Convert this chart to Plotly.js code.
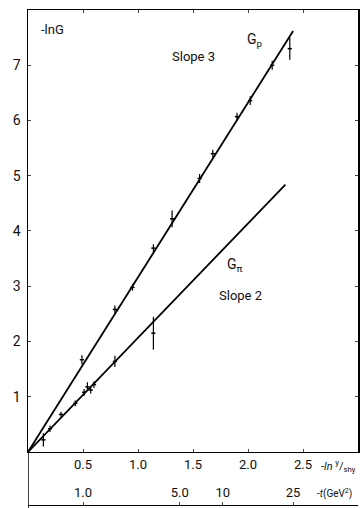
<!DOCTYPE html>
<html><head><meta charset="utf-8">
<script src="https://cdn.plot.ly/plotly-3.0.1.min.js"></script>
<style>html,body{margin:0;padding:0;background:#fff}#c{width:360px;height:508px}</style>
</head><body><div id="c"></div>
<script>
// Fit lines (-lnG vs ln s/s_hy)
const gpLineX = [0, 2.41];
const gpLineY = [0, 7.62];
const gpiLineX = [0, 2.34];
const gpiLineY = [0, 4.84];
// Data points G_p
const gpX = [0.49, 0.79, 0.95, 1.14, 1.31, 1.56, 1.68, 1.90, 2.02, 2.22, 2.38];
const gpY = [1.67, 2.58, 2.98, 3.69, 4.22, 4.95, 5.40, 6.07, 6.36, 7.00, 7.30];
const gpErr = [0.08, 0.07, 0.06, 0.07, 0.15, 0.08, 0.07, 0.07, 0.08, 0.08, 0.20];
// Data points G_pi
const gpiX = [0.14, 0.20, 0.30, 0.43, 0.51, 0.54, 0.57, 0.60, 0.79, 1.14];
const gpiY = [0.22, 0.42, 0.68, 0.88, 1.08, 1.18, 1.12, 1.22, 1.64, 2.15];
const gpiErr = [0.12, 0.06, 0.05, 0.05, 0.06, 0.08, 0.06, 0.06, 0.10, 0.30];
// Axis ticks
const xTickVals = [0.5, 1.0, 1.5, 2.0, 2.5];
const xTickText = ['0.5', '1.0', '1.5', '2.0', '2.5'];
const yTickVals = [1, 2, 3, 4, 5, 6, 7];
const tTickVals = [0.5, 1.38, 1.77, 2.41];
const tTickText = ['1.0', '5.0', '10', '25'];

const F = {family: 'Roboto, "DejaVu Sans", sans-serif', size: 13, color: '#111'};
const traces = [
  {x: gpLineX, y: gpLineY, mode: 'lines', line: {color: '#000', width: 1.8}, hoverinfo: 'skip'},
  {x: gpiLineX, y: gpiLineY, mode: 'lines', line: {color: '#000', width: 1.8}, hoverinfo: 'skip'},
  {x: gpX, y: gpY, mode: 'markers', marker: {color: '#000', size: 3, symbol: 'line-ew', line: {color: '#000', width: 1.5}},
   error_y: {type: 'data', array: gpErr, color: '#000', thickness: 1.2, width: 0}},
  {x: gpiX, y: gpiY, mode: 'markers', marker: {color: '#000', size: 3, symbol: 'line-ew', line: {color: '#000', width: 1.5}},
   error_y: {type: 'data', array: gpiErr, color: '#000', thickness: 1.2, width: 0}},
  {x: [0], y: [0], xaxis: 'x2', mode: 'markers', marker: {opacity: 0}, hoverinfo: 'skip'}
];
const layout = {
  width: 360, height: 508,
  margin: {l: 28, r: 2, t: 10, b: 3},
  paper_bgcolor: '#fff', plot_bgcolor: '#fff',
  showlegend: false,
  font: F,
  xaxis: {range: [0, 3], tickvals: xTickVals, ticktext: xTickText, ticks: 'inside', ticklen: 3,
    showline: true, linecolor: '#000', linewidth: 1.2, mirror: 'ticks', showgrid: false, zeroline: false,
    tickfont: F, anchor: 'y'},
  xaxis2: {range: [0, 3], overlaying: 'x', anchor: 'free', position: 0, side: 'top',
    tickvals: tTickVals, ticktext: tTickText, ticks: 'outside', ticklen: 3,
    showline: true, linecolor: '#000', linewidth: 1, showgrid: false, zeroline: false, tickfont: F},
  yaxis: {range: [0, 8], domain: [0.1071, 1], tickvals: yTickVals, ticks: 'inside', ticklen: 3,
    showline: true, linecolor: '#000', linewidth: 1.5, mirror: 'ticks', showgrid: false, zeroline: false,
    tickfont: {...F, size: 14}, ticklabelstandoff: 3},
  shapes: [
    {type: 'line', xref: 'x', yref: 'paper', x0: 0, x1: 0, y0: -0.01, y1: 0.11, line: {color: '#000', width: 1.5}}
  ],
  annotations: [
    {x: 0.22, y: 7.64, xref: 'x', yref: 'y', text: '-lnG', showarrow: false, font: F},
    {x: 1.5, y: 7.15, xref: 'x', yref: 'y', text: 'Slope 3', showarrow: false, font: F},
    {x: 2.06, y: 7.46, xref: 'x', yref: 'y', text: 'G<sub>p</sub>', showarrow: false, font: {...F, size: 14}},
    {x: 1.88, y: 3.38, xref: 'x', yref: 'y', text: 'G<sub>π</sub>', showarrow: false, font: {...F, size: 14}},
    {x: 1.93, y: 2.84, xref: 'x', yref: 'y', text: 'Slope 2', showarrow: false, font: F},
    {x: 0.882, y: 0.078, xref: 'paper', yref: 'paper', xanchor: 'left', yanchor: 'middle', text: '-<i>ln</i> <sup>y</sup>/<sub>shy</sub>', showarrow: false, font: {...F, size: 11}},
    {x: 0.87, y: 0.024, xref: 'paper', yref: 'paper', xanchor: 'left', yanchor: 'middle', text: '-<i>t</i>(GeV<sup>2</sup>)', showarrow: false, font: {...F, size: 10}}
  ]
};
Plotly.newPlot('c', traces, layout, {staticPlot: true, displayModeBar: false});
</script></body></html>
